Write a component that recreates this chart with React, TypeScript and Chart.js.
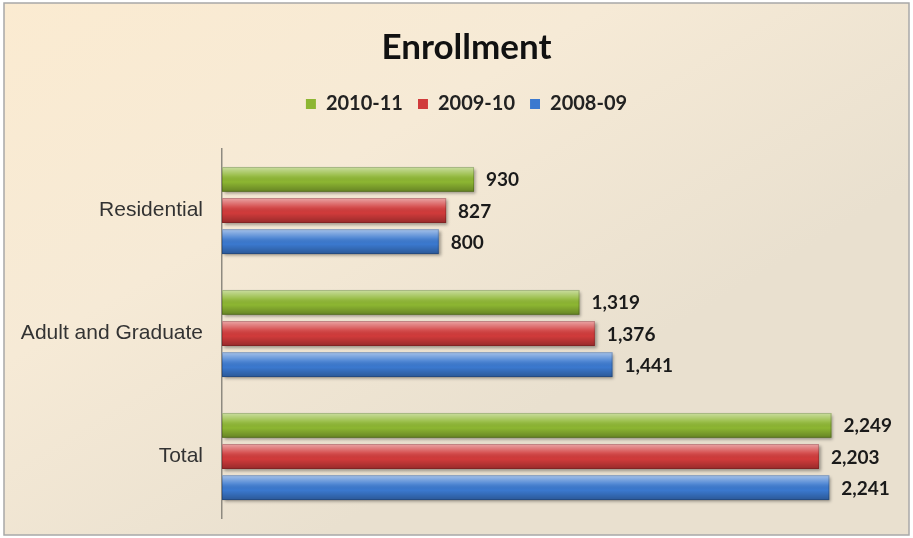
import React, { useEffect, useRef } from "react";
import { Chart, registerables } from "chart.js";

Chart.register(...registerables);

const categories = ["Residential", "Adult and Graduate", "Total"];
const seriesNames = ["2010-11", "2009-10", "2008-09"];
const values2010 = [930, 1319, 2249];
const values2009 = [827, 1376, 2203];
const values2008 = [800, 1441, 2241];
const seriesColors = ["#8DB632", "#D13B3B", "#3B79CF"];

const fmt = (v: number) => v.toLocaleString("en-US");

const bgPlugin = {
  id: "bgPlugin",
  beforeInit(chart: any) {
    const orig = chart.legend.fit;
    chart.legend.fit = function () {
      orig.call(this);
      this.height += 25;
    };
  },
  beforeDraw(chart: any) {
    const { ctx, width, height } = chart;
    ctx.save();
    ctx.fillStyle = "#ffffff";
    ctx.fillRect(0, 0, width, height);
    const g = ctx.createLinearGradient(0, 0, width * 0.35, height);
    g.addColorStop(0, "#FBEBD1");
    g.addColorStop(0.5, "#F6EAD6");
    g.addColorStop(1, "#E9E0CF");
    ctx.fillStyle = g;
    ctx.fillRect(4, 3, width - 8, height - 6);
    ctx.strokeStyle = "#A8A8A8";
    ctx.lineWidth = 1.5;
    ctx.strokeRect(4, 3, width - 8, height - 6);
    ctx.restore();
  },
};

const barFx = {
  id: "barFx",
  beforeDatasetsDraw(chart: any) {
    const ctx = chart.ctx;
    ctx.save();
    ctx.shadowColor = "rgba(0,0,0,0.35)";
    ctx.shadowOffsetX = 2;
    ctx.shadowOffsetY = 2;
    ctx.shadowBlur = 3;
  },
  afterDatasetsDraw(chart: any) {
    const ctx = chart.ctx;
    ctx.restore();
    ctx.save();
    chart.data.datasets.forEach((ds: any, di: number) => {
      const meta = chart.getDatasetMeta(di);
      meta.data.forEach((el: any, i: number) => {
        const top = el.y - el.height / 2;
        const h = el.height;
        const g = ctx.createLinearGradient(0, top, 0, top + h);
        g.addColorStop(0, "rgba(255,255,255,0.55)");
        g.addColorStop(0.35, "rgba(255,255,255,0.12)");
        g.addColorStop(0.6, "rgba(0,0,0,0)");
        g.addColorStop(1, "rgba(0,0,0,0.28)");
        ctx.fillStyle = g;
        ctx.fillRect(el.base, top, el.x - el.base, h);
        ctx.strokeStyle = "rgba(0,0,0,0.18)";
        ctx.lineWidth = 1;
        ctx.strokeRect(el.base + 0.5, top + 0.5, el.x - el.base - 1, h - 1);
        // value label
        ctx.fillStyle = "#1a1a1a";
        ctx.font = "bold 19px Lato, 'Open Sans', sans-serif";
        ctx.textAlign = "left";
        ctx.textBaseline = "middle";
        ctx.fillText(fmt(ds.data[i]), el.x + 12, el.y + 1);
      });
    });
    ctx.restore();
  },
};

export default function App() {
  const ref = useRef<HTMLCanvasElement>(null);
  useEffect(() => {
    const data = [values2010, values2009, values2008];
    const chart = new Chart(ref.current!, {
      type: "bar",
      data: {
        labels: categories,
        datasets: seriesNames.map((n, i) => ({
          label: n,
          data: data[i],
          backgroundColor: seriesColors[i],
          borderWidth: 0,
          categoryPercentage: 0.76,
          barPercentage: 0.8,
        })),
      },
      options: {
        indexAxis: "y",
        animation: false,
        responsive: false,
        maintainAspectRatio: false,
        layout: { padding: { left: 20, right: 0, top: 0, bottom: 20 } },
        scales: {
          x: {
            display: false,
            min: 0,
            max: 2550,
          },
          y: {
            grid: {
              display: true,
              drawOnChartArea: false,
              drawTicks: true,
              tickLength: 19,
              tickColor: "rgba(0,0,0,0)",
            },
            border: { display: true, color: "#8E8A80", width: 1.5 },
            ticks: {
              padding: 0,
              color: "#333333",
              font: { family: "'Liberation Sans', Arial, sans-serif", size: 21 },
            },
            afterFit(scale: any) {
              scale.width = 202;
            },
          },
        },
        plugins: {
          title: {
            display: true,
            text: "Enrollment",
            color: "#111111",
            font: { family: "Lato, 'Open Sans', sans-serif", size: 35, weight: "bold" },
            padding: { top: 27, bottom: 10 },
          },
          legend: {
            display: true,
            labels: {
              boxWidth: 10,
              boxHeight: 10,
              padding: 15,
              color: "#222222",
              font: { family: "Lato, 'Open Sans', sans-serif", size: 20, weight: "bold" },
            },
          },
          tooltip: { enabled: false },
        },
      } as any,
      plugins: [bgPlugin, barFx],
    });
    return () => chart.destroy();
  }, []);
  return (
    <div style={{ position: "absolute", left: 0, top: 0, width: 913, height: 538 }}>
      <canvas ref={ref} width={913} height={538} style={{ width: 913, height: 538 }} />
    </div>
  );
}
